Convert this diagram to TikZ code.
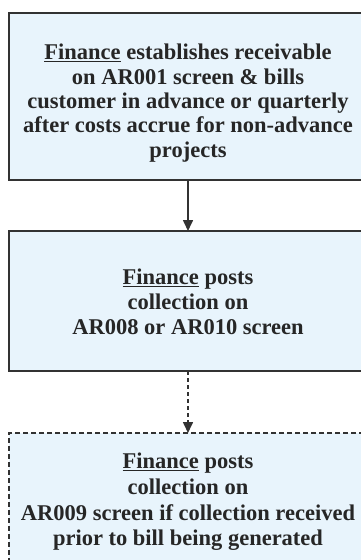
\documentclass[tikz,border=0pt]{standalone}
\usepackage{fontspec}
\setmainfont{Liberation Serif}
\usetikzlibrary{arrows.meta}
\definecolor{boxfill}{RGB}{232,244,252}
\definecolor{boxline}{RGB}{50,50,50}
\tikzset{
  box/.style={draw=boxline, fill=boxfill, line width=1.6pt, minimum width=358pt, inner sep=0pt, outer sep=0pt},
  dbox/.style={box, dash pattern=on 5pt off 3pt},
  txt/.style={align=center, font=\fontsize{22.5}{25}\selectfont\bfseries, text=black!85, inner sep=0pt},
  arr/.style={draw=boxline, line width=1.6pt, -{Triangle[width=10pt,length=11pt]}},
  darr/.style={arr, dash pattern=on 4pt off 3pt}
}
\begin{document}
\begin{tikzpicture}[x=1pt,y=-1pt]
\useasboundingbox (0,0) rectangle (361,560);
\clip (0,0) rectangle (361,560);
\fill[white] (0,0) rectangle (361,560);
\node[box, minimum height=167pt] (b1) at (188,96.5) {};
\node[box, minimum height=140pt] (b2) at (188,301) {};
\node[dbox, minimum height=167pt] (b3) at (188,516.5) {};
\node[txt, font=\fontsize{22.5}{24.3}\selectfont\bfseries] (t1) at (188,103) {\underline{Finance} establishes receivable\\on AR001 screen \& bills\\customer in advance or quarterly\\after costs accrue for non-advance\\projects};
\node[txt] (t2) at (188,302) {\underline{Finance} posts\\collection on\\AR008 or AR010 screen};
\node[txt, font=\fontsize{22.5}{25.6}\selectfont\bfseries] (t3) at (188,502) {\underline{Finance} posts\\collection on\\AR009 screen if collection received\\prior to bill being generated};
\draw[arr] (b1.south) -- (b2.north);
\draw[darr] (b2.south) -- (b3.north);
\end{tikzpicture}
\end{document}
